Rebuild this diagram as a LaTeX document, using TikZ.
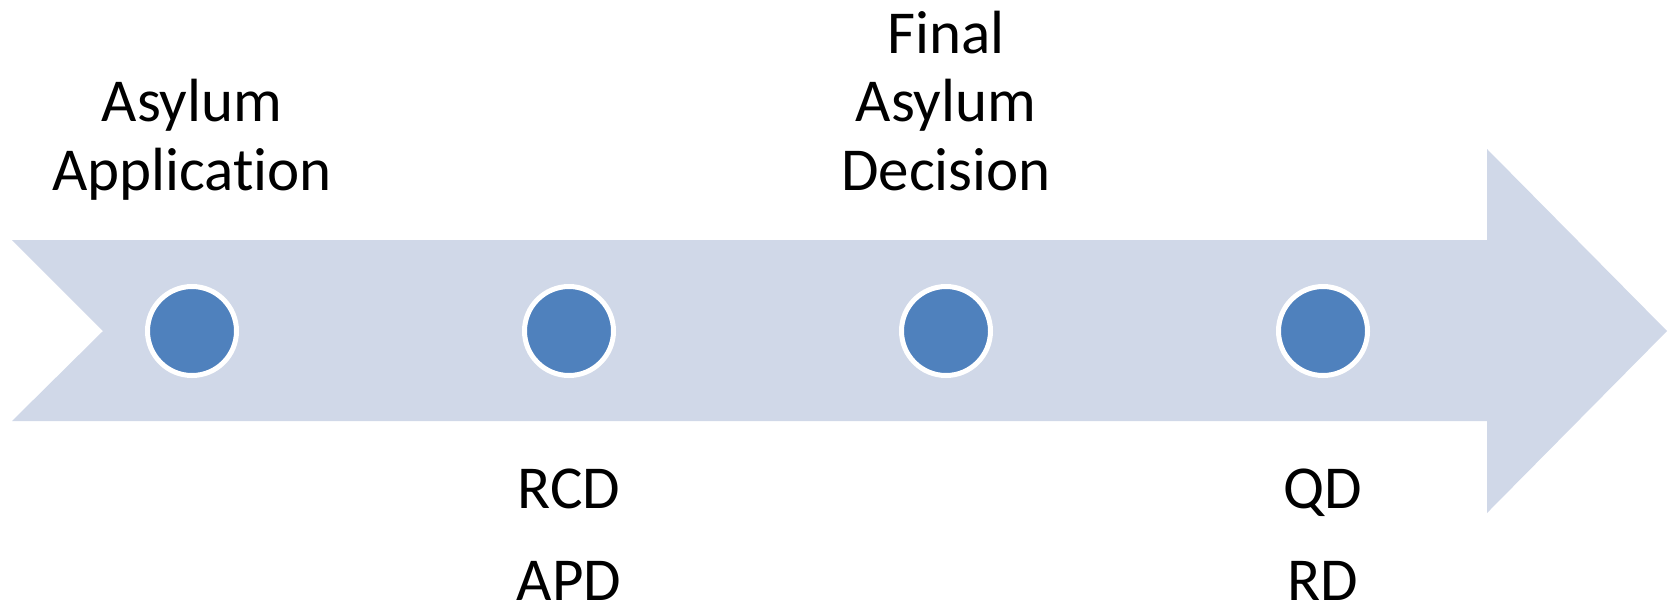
\documentclass[tikz,border=0pt]{standalone}
\usepackage{fontspec}
\setmainfont{Carlito}[Ligatures=NoCommon]
\definecolor{bandblue}{HTML}{D0D8E8}
\definecolor{dotblue}{HTML}{4F81BD}
\begin{document}
\begin{tikzpicture}[x=0.5pt,y=-0.5pt,
  dot/.style={circle,fill=dotblue,draw=white,line width=2.5pt,inner sep=0pt,minimum size=44.5pt},
  lbl/.style={inner sep=0pt,align=center,anchor=base,font=\fontsize{30.5}{34.25}\selectfont}]
  \useasboundingbox (0,0) rectangle (1669,607);

  \fill[bandblue] (12,240) -- (1487,240) -- (1487,149) -- (1667,331)
    -- (1487,513) -- (1487,421) -- (12,421) -- (103,331) -- cycle;

  \node[dot] (a) at (192,331) {};
  \node[dot] (b) at (569,331) {};
  \node[dot] (c) at (946,331) {};
  \node[dot] (d) at (1323,331) {};

  \node[lbl] (app) at (192,190) {Asylum\\Application};
  \node[lbl] (fin) at (946,190) {Final\\Asylum\\Decision};
  \node[lbl] (rcd) at (569,508) {RCD};
  \node[lbl] (apd) at (569,600) {APD};
  \node[lbl] (qd) at (1323,508) {QD};
  \node[lbl] (rd) at (1323,600) {RD};

\end{tikzpicture}
\end{document}
